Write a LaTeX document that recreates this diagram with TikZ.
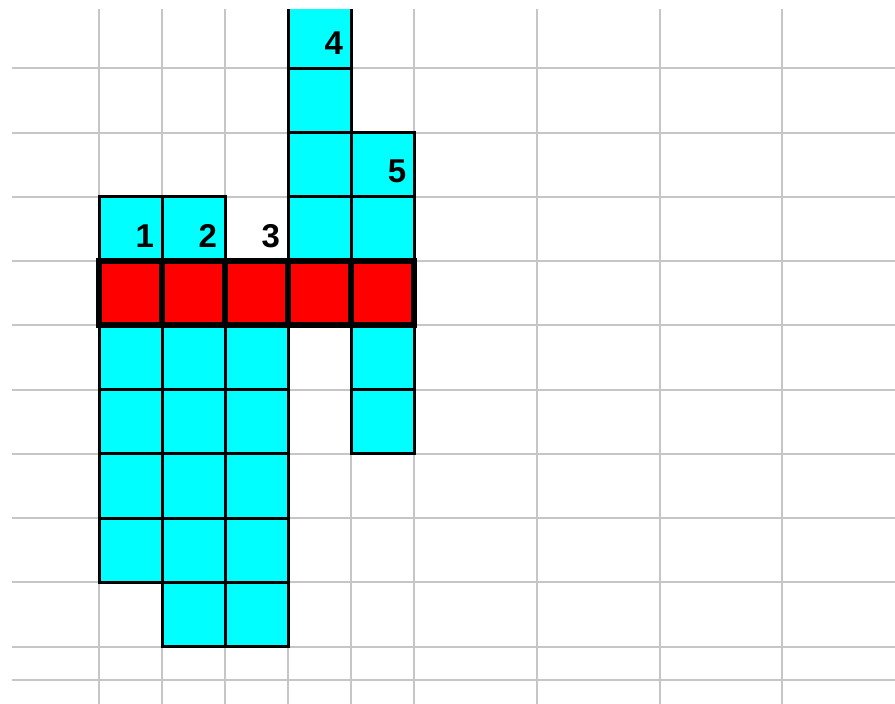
\documentclass[tikz,border=0pt]{standalone}
\usepackage{fontspec}
\setmainfont{Liberation Sans}
\usepackage{xcolor}
\definecolor{cellCyan}{HTML}{00FFFF}
\definecolor{cellRed}{HTML}{FF0000}
\definecolor{gridGray}{HTML}{C6C6C6}
\begin{document}
\begin{tikzpicture}[x=1pt, y=-1pt,
  gridline/.style={draw=gridGray, line width=2pt},
  cyancell/.style={fill=cellCyan, draw=black, line width=3pt},
  redcell/.style={fill=cellRed, draw=black, line width=6pt},
  num/.style={anchor=base east, inner sep=0pt, font=\bfseries\fontsize{33}{33}\selectfont, xshift=-8pt, yshift=14pt}
]
\fill[white] (0,0) rectangle (895,704);
\useasboundingbox (0,0) rectangle (895,704);
\begin{scope}
\clip (0,9) rectangle (895,704);
\foreach \gx in {99,162.06,225.12,288.18,351.24,414.3,536.9,659.5,782.1}
  \draw[gridline] (\gx,9) -- (\gx,704);
\foreach \gy in {68.3,132.55,196.8,261.05,325.3,389.55,453.8,518.05,582.3,646.55,680}
  \draw[gridline] (12,\gy) -- (895,\gy);
\begin{scope}[shift={(99,4.05)}, x=63.06pt, y=-64.25pt]
\foreach \i/\j in {0/3,0/5,0/6,0/7,0/8,
                   1/3,1/5,1/6,1/7,1/8,1/9,
                   2/5,2/6,2/7,2/8,2/9,
                   3/0,3/1,3/2,3/3,
                   4/2,4/3,4/5,4/6}
  \draw[cyancell] (\i,\j) rectangle ++(1,1);
\foreach \i in {0,...,4}
  \draw[redcell] (\i,4) rectangle ++(1,1);
\node[num] (n1) at (1,4) {1};
\node[num] (n2) at (2,4) {2};
\node[num] (n3) at (3,4) {3};
\node[num] (n4) at (4,1) {4};
\node[num] (n5) at (5,3) {5};
\end{scope}
\end{scope}
\end{tikzpicture}
\end{document}
